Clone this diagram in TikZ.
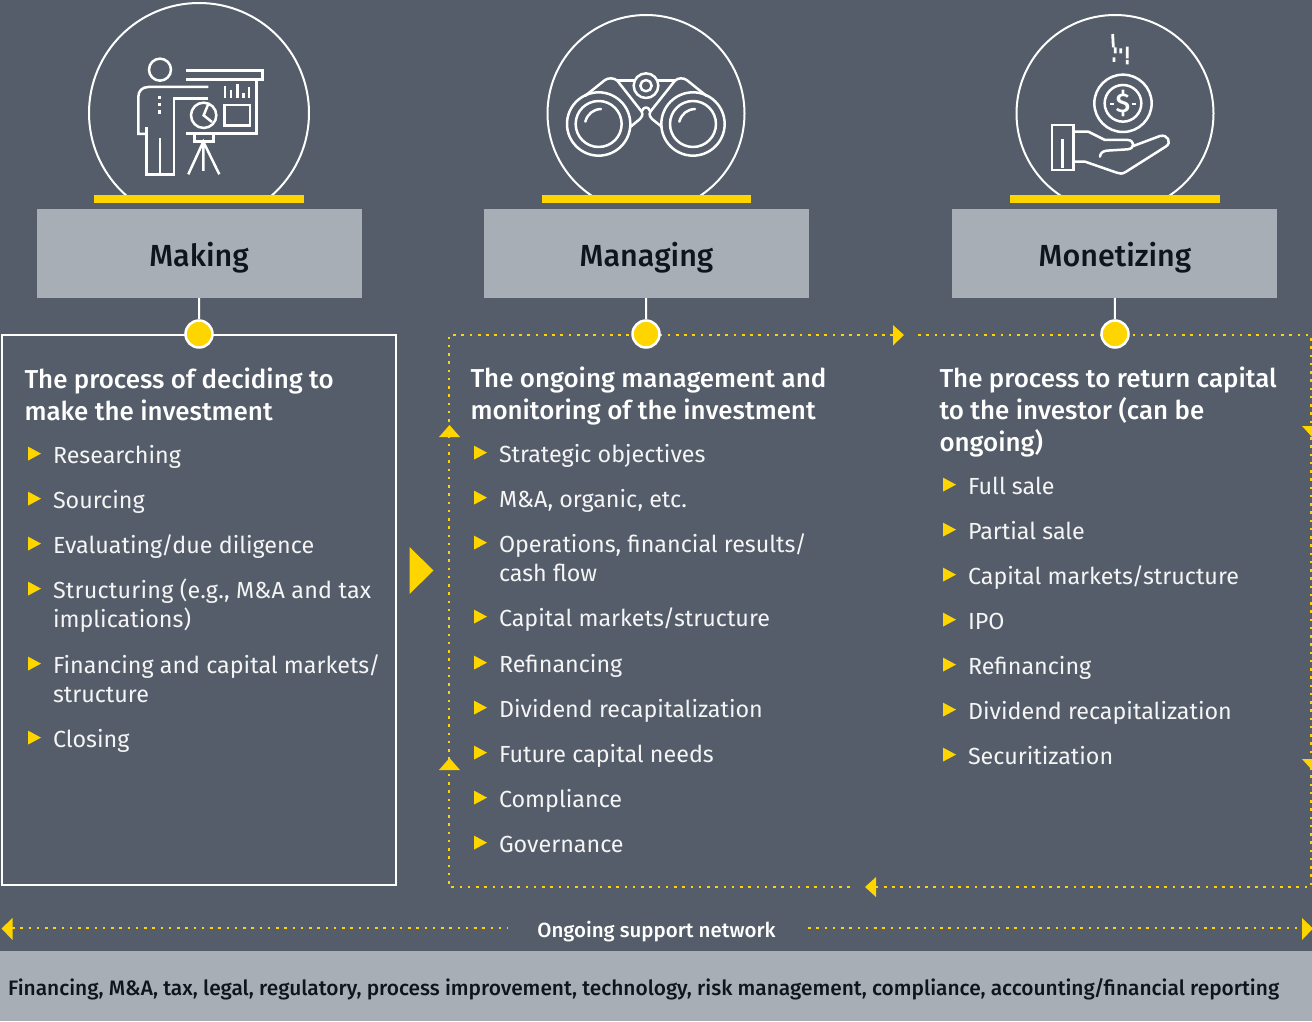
\documentclass[tikz,border=0pt]{standalone}
\usepackage{fontspec}
\setmainfont{Fira Sans}
\newfontfamily\medf{Fira Sans Medium}
\definecolor{bgc}{HTML}{545D69}
\definecolor{boxc}{HTML}{A7AEB5}
\definecolor{yel}{HTML}{FFD500}
\definecolor{ink}{HTML}{10141F}
\newcommand{\fh}{\medf\fontsize{25.9}{32}\selectfont}
\newcommand{\fb}{\fontsize{23.3}{29}\selectfont}
\newcommand{\slsh}{\kern-1pt/\kern-1pt}
\tikzset{
  txt/.style={anchor=north west,inner sep=0pt,outer sep=0pt,align=left,text=white},
  headtxt/.style={txt,font=\fh},
  itemtxt/.style={txt,font=\fb,text=white!94!bgc},
  stagebox/.style={fill=boxc,minimum width=325pt,minimum height=89pt,inner sep=0pt},
  stagelabel/.style={anchor=base,inner sep=0pt,text=ink,font=\medf\fontsize{30.5}{36}\selectfont},
  stagedot/.style={circle,draw=white,line width=2.5pt,fill=yel,minimum size=27pt,inner sep=0pt},
  stem/.style={draw=white,line width=2pt},
  ic/.style={draw=white,line width=2.5pt,line cap=butt,line join=miter},
  icr/.style={draw=white,line width=2.5pt,line cap=round,line join=round},
  dots/.style={draw=yel,line width=2.6pt,dash pattern=on 2.6pt off 5.65pt},
  bar/.style={fill=yel},
  tri/.style={fill=yel}
}
\newcommand{\bul}[3]{% x, centre y, text
  \fill[tri] (#1,#2-8.4) -- (#1+13,#2-1.4) -- (#1,#2+5.6) -- cycle;
  \node[itemtxt] at (#1+25,#2+8-20) {\rule{0pt}{20pt}#3};
}
\begin{document}
\begin{tikzpicture}[x=1pt,y=-1pt]
\useasboundingbox (0,0) rectangle (1312,1021);
\fill[bgc] (0,0) rectangle (1312,1021);
\fill[boxc] (0,951) rectangle (1312,1021);
% domes
\begin{scope}
\clip (0,0) rectangle (1312,196);
\draw[white,line width=2pt] (199,113) circle (110);
\draw[white,line width=2pt] (646,113.5) circle (98.5);
\draw[white,line width=2pt] (1115,113.5) circle (98.5);
\end{scope}
\fill[bar] (94,195) rectangle (304,203);
\fill[bar] (541.5,195) rectangle (751,203);
\fill[bar] (1010,195) rectangle (1220,203);
% icon 1
\begin{scope}[shift={(80,0)},x=0.3333pt,y=-0.3333pt]
\draw[ic] (240,209) circle (33);
\draw[ic] (385,261) -- (205,261) .. controls (187,261) and (175,273) .. (175,290) -- (175,402) -- (200,402);
\draw[ic] (200,382) -- (200,523) -- (282,523) -- (282,295) -- (385,295);
\draw[ic] (240,415) -- (240,526);
\draw[ic,line width=3pt] (240,288) -- (240,298) (240,308) -- (240,318) (240,330) -- (240,342);
\draw[ic] (318,212) -- (547,212) -- (547,238) -- (318,238);
\draw[ic] (530,238) -- (530,400) -- (318,400);
\draw[ic,line width=2.8pt] (435,258) -- (435,295) (453,270) -- (453,295) (472,252) -- (472,295) (490,280) -- (490,295) (507,262) -- (507,295);
\draw[ic] (434,315) rectangle (510,376);
\draw[ic] (371,346) circle (38);
\draw[ic] (385,312) -- (371,346) -- (396,366);
\draw[ic] (343,400) -- (343,425) -- (400,425) -- (400,400);
\draw[ic] (325,523) -- (370,425) -- (418,523) (370,425) -- (370,513);
\end{scope}
% icon 2
\begin{scope}[shift={(540,10)},x=0.3333pt,y=-0.3333pt]
\draw[icr] (176,342) circle (95) (176,342) circle (69);
\draw[icr] (459,342) circle (95) (459,342) circle (69);
\draw[icr] (136,335) .. controls (142,312) and (160,298) .. (183,297);
\draw[icr] (418,335) .. controls (424,312) and (442,298) .. (465,297);
\draw[icr] (318,227) circle (37) (318,227) circle (17);
\draw[icr] (135,258) -- (195,210) .. controls (205,203) and (222,203) .. (232,212) -- (305,305) .. controls (310,315) and (305,322) .. (300,327) -- (272,350);
\draw[icr] (500,258) -- (440,210) .. controls (430,203) and (414,203) .. (405,212) -- (331,305) .. controls (326,315) and (331,322) .. (336,327) -- (365,350);
\draw[icr] (232,212) -- (283,212) (353,212) -- (405,212);
\draw[icr] (305,305) .. controls (310,288) and (326,288) .. (331,305);
\end{scope}
% icon 3
\begin{scope}[shift={(1005,10)},x=0.3333pt,y=-0.3333pt]
\draw[ic] (354,280) circle (86) (354,280) circle (55);
\node[inner sep=0pt,text=white,font=\medf\fontsize{27}{27}\selectfont] (dollar) at (354,281) {\$};
\draw[ic] (316,282) -- (328,282) (381,282) -- (393,282);
\draw[ic] (141,345) rectangle (206,480);
\draw[ic] (172,387) -- (172,475);
\draw[icr] (206,365) -- (250,365) -- (300,390) -- (368,390) .. controls (388,390) and (392,415) .. (368,418) -- (305,422) .. controls (292,424) and (286,430) .. (285,440);
\draw[icr] (385,408) -- (465,378) .. controls (488,372) and (502,398) .. (482,410) -- (362,486) .. controls (352,492) and (345,492) .. (335,488) -- (240,455) -- (206,455);
\draw[ic,line width=2.8pt] (323,72) -- (325,112) (331,112) -- (331,130) (327,142) -- (327,156) (347,115) -- (347,130) (367,110) -- (367,145) (367,150) -- (367,163);
\end{scope}
% stage boxes
\node[stagebox] (making) at (199.5,253.5) {};
\node[stagebox] (managing) at (646.5,253.5) {};
\node[stagebox] (monetizing) at (1114.5,253.5) {};
\node[stagelabel] (lmk) at (199,266) {Making};
\node[stagelabel] (lmg) at (646.5,266) {Managing};
\node[stagelabel] (lmn) at (1115,266) {Monetizing};
% left panel
\draw[white,line width=2pt] (2,335) rectangle (396,885);
% dotted routes
\coordinate (tl) at (449,335);
\coordinate (tm) at (893,335);
\coordinate (tn) at (918,335);
\coordinate (tr) at (1311,335);
\coordinate (br) at (1311,887);
\coordinate (bm) at (876,887);
\coordinate (bn) at (850,887);
\coordinate (bl) at (449,887);
\draw[dots] (tm) -- (tl) -- (bl) -- (bn);
\draw[dots] (tn) -- (tr) -- (br) -- (bm);
\fill[tri] (893,325) -- (904,335) -- (893,345.5) -- cycle;
\fill[tri] (876,877) -- (865,887) -- (876,897) -- cycle;
\fill[tri] (439,437) -- (449.5,425) -- (460,437) -- cycle;
\fill[tri] (439,770) -- (449.5,758) -- (460,770) -- cycle;
\fill[tri] (1302,426) -- (1322,426) -- (1312,437) -- cycle;
\fill[tri] (1302,759) -- (1322,759) -- (1312,770) -- cycle;
\fill[tri] (409.5,547) -- (433.5,570.5) -- (409.5,594) -- cycle;
% stems and dots
\node[stagedot] (dmk) at (199,334) {};
\node[stagedot] (dmg) at (646,334) {};
\node[stagedot] (dmn) at (1115,334) {};
\draw[stem] (making) -- (dmk);
\draw[stem] (managing) -- (dmg);
\draw[stem] (monetizing) -- (dmn);
% column 1
\node[headtxt] at (24.5,388-20) {\rule{0pt}{20pt}The process of deciding to\\make the investment};
\bul{28}{455}{Researching}
\bul{28}{500}{Sourcing}
\bul{28}{545}{Evaluating\slsh due diligence}
\bul{28}{590}{{\addfontfeatures{LetterSpace=1}Structuring (e.g., M\&A and tax}\\implications)}
\bul{28}{665}{Financing and capital markets\slsh\\structure}
\bul{28}{739}{Closing}
% column 2
\node[headtxt] at (470.5,387-20) {\rule{0pt}{20pt}The ongoing management and\\monitoring of the investment};
\bul{474}{454}{Strategic objectives}
\bul{474}{499}{M\&A, organic, etc.}
\bul{474}{544}{Operations, financial results\slsh\\cash flow}
\bul{474}{618}{Capital markets\slsh structure}
\bul{474}{664}{Refinancing}
\bul{474}{709}{Dividend recapitalization}
\bul{474}{754}{Future capital needs}
\bul{474}{799}{Compliance}
\bul{474}{844}{Governance}
% column 3
\node[headtxt] at (939.5,387-20) {\rule{0pt}{20pt}The process to return capital\\to the investor (can be\\ongoing)};
\bul{943}{486}{Full sale}
\bul{943}{531}{Partial sale}
\bul{943}{576}{Capital markets\slsh structure}
\bul{943}{621}{IPO}
\bul{943}{666}{Refinancing}
\bul{943}{711}{Dividend recapitalization}
\bul{943}{756}{Securitization}
% support network
\coordinate (sl) at (12,928);
\coordinate (sm) at (508,928);
\coordinate (sn) at (808,928);
\coordinate (sr) at (1302,928);
\draw[dots] (sl) -- (sm);
\draw[dots] (sn) -- (sr);
\fill[tri] (12.5,918) -- (1.5,928.5) -- (12.5,940) -- cycle;
\fill[tri] (1302,918) -- (1313,928.5) -- (1302,940) -- cycle;
\node[anchor=base,inner sep=0pt,text=white,font=\medf\fontsize{20.5}{25}\selectfont] (onet) at (656.5,937) {Ongoing support network};
\node[anchor=base west,inner sep=0pt,text=ink,font=\medf\fontsize{20.9}{25}\selectfont] (list) at (8,995) {Financing, M\&A, tax, legal, regulatory, process improvement, technology, risk management, compliance, accounting\slsh financial reporting};
\end{tikzpicture}
\end{document}
